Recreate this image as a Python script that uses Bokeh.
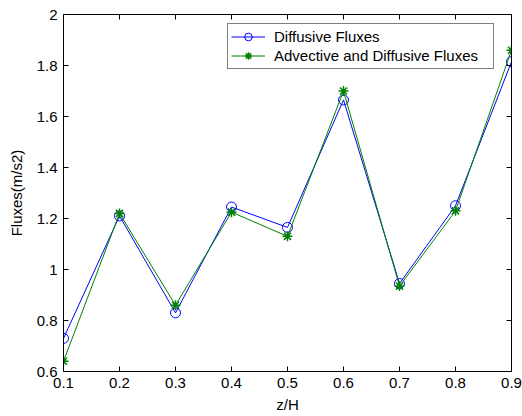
from bokeh.plotting import figure
from bokeh.models import (LinearAxis, Range1d, FixedTicker, Legend, LegendItem,
                          CustomLabelingPolicy)
from bokeh.embed import file_html
from bokeh.resources import INLINE

z = [0.1, 0.2, 0.3, 0.4, 0.5, 0.6, 0.7, 0.8, 0.9]
diffusive = [0.73, 1.21, 0.83, 1.245, 1.165, 1.665, 0.945, 1.25, 1.815]
advective = [0.64, 1.22, 0.86, 1.225, 1.13, 1.70, 0.935, 1.23, 1.86]
x_ticks = [0.1, 0.2, 0.3, 0.4, 0.5, 0.6, 0.7, 0.8, 0.9]
y_ticks = [0.6, 0.8, 1.0, 1.2, 1.4, 1.6, 1.8, 2.0]

FONT = "Liberation Sans"
FS = "15px"

p = figure(width=522, height=416, output_backend="svg", toolbar_location=None,
           x_range=Range1d(0.1, 0.9), y_range=Range1d(0.6, 2.0),
           x_axis_location=None, y_axis_location=None,
           min_border_left=63, min_border_right=11, min_border_top=14, min_border_bottom=45)
p.grid.visible = False
p.outline_line_color = "black"
p.outline_line_width = 1
p.background_fill_color = "white"
p.border_fill_color = "white"

HIDE = """
try {
  const on = Array.from(indices);
  for (const i of on) { indices.unset(i); }
} catch (e) {}
return indices;
"""


def mk_axis(labels):
    a = LinearAxis()
    a.major_tick_in = 5
    a.major_tick_out = 0
    a.minor_tick_in = 0
    a.minor_tick_out = 0
    a.axis_line_color = "black"
    a.major_tick_line_color = "black"
    a.major_label_text_font = FONT
    a.major_label_text_color = "black"
    a.axis_label_text_font = FONT
    a.axis_label_text_font_size = FS
    a.axis_label_text_font_style = "normal"
    a.axis_label_text_color = "black"
    if labels:
        a.major_label_text_font_size = FS
    else:
        a.major_label_text_font_size = "0px"
        a.major_label_standoff = 0
        a.axis_label_standoff = 0
        a.major_label_policy = CustomLabelingPolicy(code=HIDE)
    return a

xb = mk_axis(True)
xb.ticker = FixedTicker(ticks=x_ticks)
xb.axis_label = "z/H"
xb.major_label_standoff = 6
xb.axis_label_standoff = 5
p.add_layout(xb, "below")

yl = mk_axis(True)
yl.ticker = FixedTicker(ticks=y_ticks)
yl.axis_label = "Fluxes(m/s2)"
yl.major_label_standoff = 6
yl.axis_label_standoff = 9
p.add_layout(yl, "left")

xt = mk_axis(False)
xt.ticker = FixedTicker(ticks=x_ticks)
p.add_layout(xt, "above")

yr = mk_axis(False)
yr.ticker = FixedTicker(ticks=y_ticks)
p.add_layout(yr, "right")

l1 = p.line(z, diffusive, line_color="#0000FF", line_width=1)
m1 = p.scatter(z, diffusive, marker="circle", size=10, fill_color=None,
               line_color="#0000FF", line_width=1)
l2 = p.line(z, advective, line_color="#008000", line_width=1)
m2 = p.scatter(z, advective, marker="asterisk", size=10,
               line_color="#008000", line_width=1.5)

legend = Legend(items=[
    LegendItem(label="Diffusive Fluxes", renderers=[l1, m1]),
    LegendItem(label="Advective and Diffusive Fluxes", renderers=[l2, m2]),
], location=(164, 302))
legend.label_text_font = FONT
legend.label_text_font_size = FS
legend.label_text_color = "black"
legend.border_line_color = "black"
legend.border_line_width = 1
legend.padding = 3
legend.spacing = 0
legend.margin = 0
legend.glyph_width = 34
legend.glyph_height = 19
legend.label_height = 19
legend.label_width = 216
legend.label_standoff = 9
legend.background_fill_alpha = 1
p.add_layout(legend, "center")

open("out.html", "w").write(file_html(p, INLINE))
